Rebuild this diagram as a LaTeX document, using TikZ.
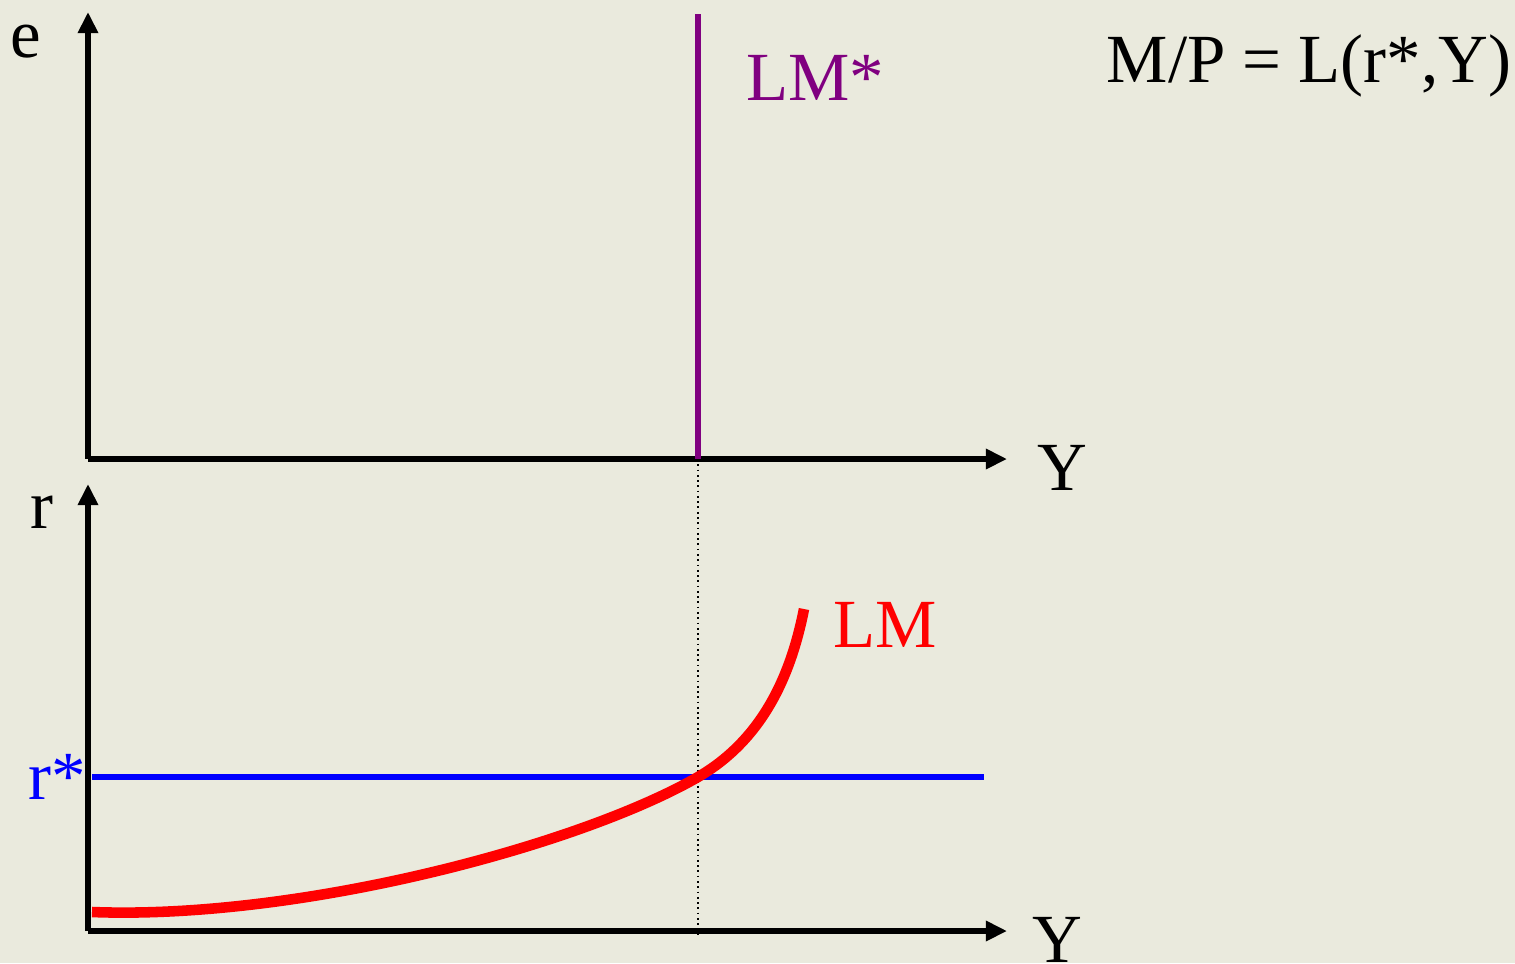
\documentclass[tikz,border=0pt]{standalone}
\usepackage{fontspec}
\setmainfont{Liberation Serif}
\usepackage{tikz}
\usetikzlibrary{arrows.meta,positioning}
\definecolor{bgpaper}{RGB}{234,234,221}
\definecolor{lmpurple}{RGB}{128,0,128}
\tikzstyle{axis}=[-{Triangle[length=6pt,width=5.5pt]},line width=1.6pt,black]
\tikzstyle{lbl}=[font=\fontsize{19.6}{22}\selectfont,inner sep=0pt]

\begin{document}
\begin{tikzpicture}[x=0.01cm,y=-0.01cm]

  % fond
  \fill[bgpaper] (0,0) rectangle (1515,963);
  \useasboundingbox (0,0) rectangle (1515,963);

  % Axes du haut
  \coordinate (eO) at (88,459);
  \coordinate (eTop) at (88,12);
  \coordinate (eEnd) at (1007,459);
  \draw[axis] (eO) -- (eTop);
  \draw[axis] (eO) -- (eEnd);

  % Axes du bas
  \coordinate (rO) at (88,931);
  \coordinate (rTop) at (88,484);
  \coordinate (rEnd) at (1007,931);
  \draw[axis] (rO) -- (rTop);
  \draw[axis] (rO) -- (rEnd);

  % Etiquettes
  \node[lbl] (e)    at (26,42)   {e};
  \node[lbl] (r)    at (42,512)  {r};
  \node[lbl] (Y1)   at (1062,468) {Y};
  \node[lbl] (Y2)   at (1057,940) {Y};
  \node[lbl] (eq)   at (1309,66) {M/P = L(r*,Y)};
  \node[lbl,text=lmpurple] (lmstar) at (815,78) {LM*};
  \node[lbl,text=red] (lm)   at (885,625) {LM};
  \node[lbl,text=blue] (rstar) at (57,777) {r*};

  % LM*
  \coordinate (lsTop) at (698,14);
  \coordinate (lsBot) at (698,459);
  \draw[lmpurple,line width=1.5pt] (lsTop) -- (lsBot);

  % pointilles
  \coordinate (dEnd) at (698,935);
  \draw[densely dotted,line width=0.5pt] (lsBot) -- (dEnd);

  % r*
  \coordinate (rsL) at (92,777);
  \coordinate (rsR) at (984,777);
  \draw[blue,line width=1.5pt] (rsL) -- (rsR);

  % LM
  \coordinate (lmA) at (92,912);
  \coordinate (lmX) at (698,777);
  \coordinate (lmB) at (804,609);
  \draw[red,line width=3pt] (lmA) .. controls (300,920) and (580,845) .. (lmX)
    .. controls (760,741) and (790,680) .. (lmB);

\end{tikzpicture}
\end{document}
